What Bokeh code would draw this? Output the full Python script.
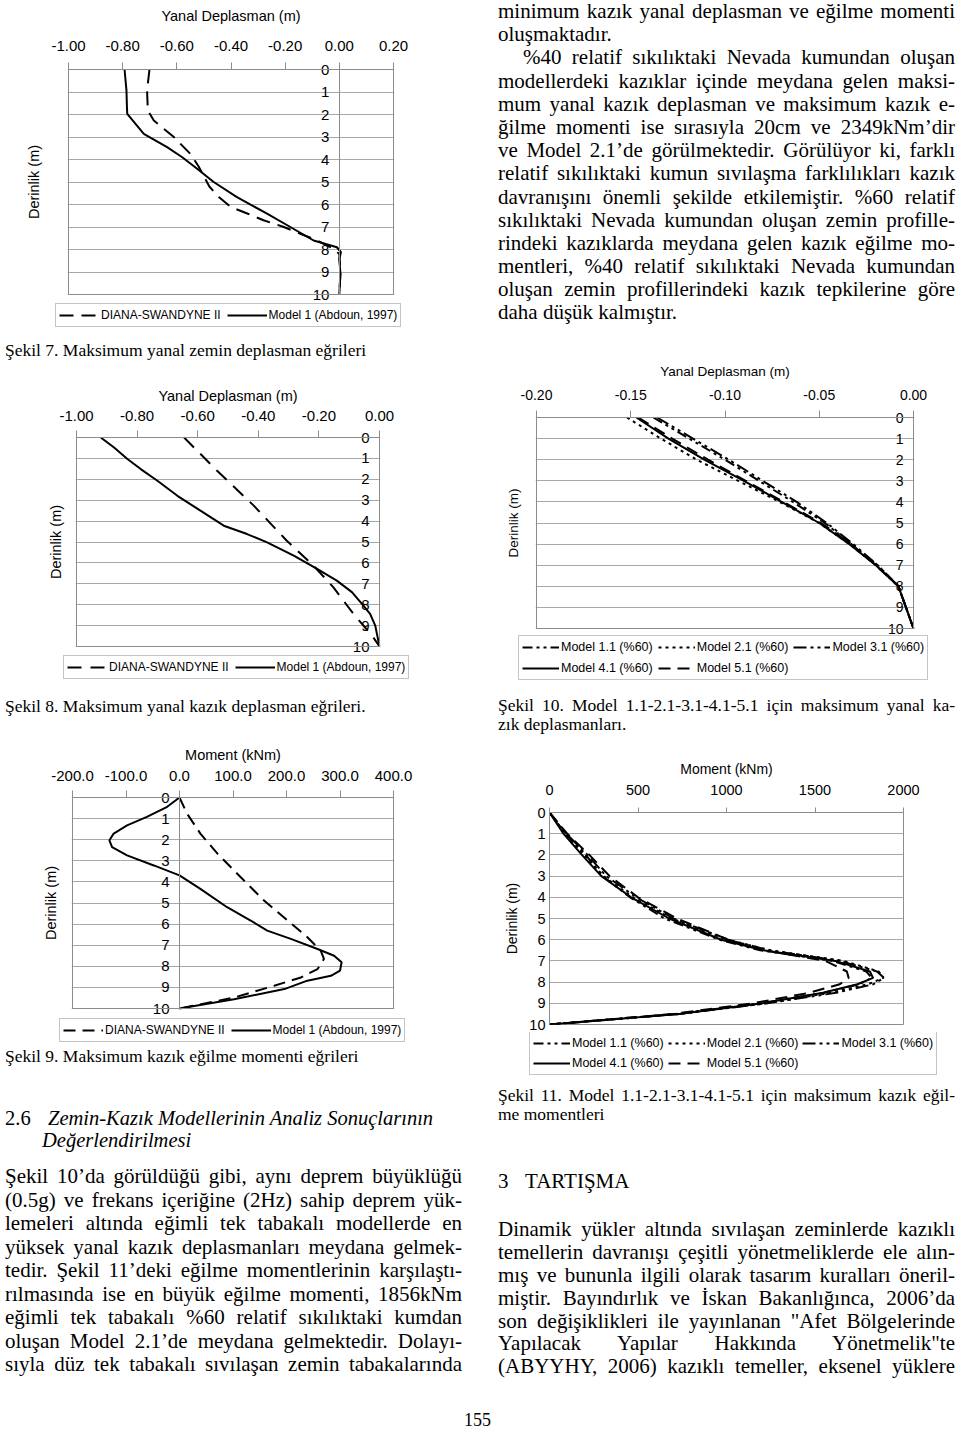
import html
from bokeh.plotting import figure
from bokeh.models import (Range1d, FixedTicker, NumeralTickFormatter, LinearAxis, Legend,
                          LegendItem, Div, BoxAnnotation)
from bokeh.layouts import column, row
from bokeh.embed import file_html
from bokeh.resources import INLINE

# ---------------- DATA ----------------
depth_ticks = [0, 1, 2, 3, 4, 5, 6, 7, 8, 9, 10]

# Şekil 7 - Maksimum yanal zemin deplasman eğrileri
f7_xticks = [-1.0, -0.8, -0.6, -0.4, -0.2, 0.0, 0.2]
f7_model1_depth = [0, 0.93, 1.75, 1.97, 2.86, 3.45, 3.9, 4.41, 5.0, 5.67, 6.41, 7.0, 7.6, 7.9, 8.12, 8.41, 9.08, 10]
f7_model1_disp = [-0.793, -0.786, -0.784, -0.783, -0.722, -0.636, -0.58, -0.525, -0.464, -0.378, -0.267, -0.181, -0.095, -0.009, 0.006, 0.0, 0.004, 0.0]
f7_diana_depth = [0, 0.93, 1.82, 2.27, 3.0, 3.75, 4.3, 4.64, 5.2, 5.67, 6.12, 6.4, 6.7, 7.0, 7.3, 7.6, 7.97, 8.2, 9.0, 10]
f7_diana_disp = [-0.701, -0.71, -0.707, -0.685, -0.611, -0.55, -0.52, -0.505, -0.48, -0.445, -0.40, -0.34, -0.28, -0.205, -0.144, -0.082, -0.021, 0.0, 0.004, 0.0]

# Şekil 8 - Maksimum yanal kazık deplasman eğrileri
f8_xticks = [-1.0, -0.8, -0.6, -0.4, -0.2, 0.0]
f8_model1_depth = [0, 0.48, 1.03, 1.51, 2.07, 2.79, 3.5, 4.22, 4.62, 5.02, 5.65, 6.29, 6.85, 7.4, 7.96, 8.44, 9.0, 10]
f8_model1_disp = [-0.92, -0.876, -0.832, -0.788, -0.733, -0.667, -0.591, -0.514, -0.437, -0.371, -0.283, -0.206, -0.141, -0.091, -0.058, -0.031, -0.014, 0.0]
f8_diana_depth = [0, 1.59, 3.26, 4.94, 6.13, 7.17, 8.44, 9.47, 10]
f8_diana_disp = [-0.645, -0.536, -0.415, -0.306, -0.218, -0.152, -0.086, -0.025, 0.0]

# Şekil 9 - Maksimum kazık eğilme momenti eğrileri
f9_xticks = [-200, -100, 0, 100, 200, 300, 400]
f9_model1_depth = [0, 0.44, 0.92, 1.32, 1.71, 2.03, 2.35, 2.74, 3.22, 3.69, 4.33, 5.2, 5.83, 6.31, 6.7, 7.18, 7.5, 7.81, 8.21, 8.45, 8.68, 9.08, 9.56, 10]
f9_model1_mom = [0, -23, -61, -98, -123, -131, -126, -98, -48, 0, 39, 89, 133, 164, 208, 258, 289, 303, 300, 283, 239, 196, 102, 0]
f9_diana_depth = [0, 0.76, 1.71, 2.66, 3.77, 4.88, 5.83, 6.62, 7.26, 7.65, 8.13, 8.53, 8.92, 9.48, 10]
f9_diana_mom = [0, 14, 39, 71, 114, 158, 202, 239, 264, 270, 258, 227, 177, 102, 0]

# Şekil 10 - Model 1.1-2.1-3.1-4.1-5.1 yanal kazık deplasmanları
f10_xticks = [-0.20, -0.15, -0.10, -0.05, 0.0]
f10_depth = [0, 1, 2, 3, 4, 5, 6, 7, 8, 9, 10]
f10_m11 = [-0.138, -0.119, -0.100, -0.082, -0.064, -0.047, -0.033, -0.019, -0.008, -0.004, 0.0]
f10_m21 = [-0.152, -0.134, -0.115, -0.093, -0.071, -0.050, -0.034, -0.020, -0.008, -0.004, 0.0]
f10_m31 = [-0.136, -0.117, -0.098, -0.080, -0.062, -0.046, -0.032, -0.019, -0.008, -0.004, 0.0]
f10_m41 = [-0.147, -0.130, -0.111, -0.090, -0.070, -0.050, -0.034, -0.020, -0.008, -0.004, 0.0]
f10_m51 = [-0.146, -0.128, -0.109, -0.089, -0.069, -0.049, -0.033, -0.020, -0.008, -0.004, 0.0]

# Şekil 11 - Model 1.1-2.1-3.1-4.1-5.1 kazık eğilme momentleri
f11_xticks = [0, 500, 1000, 1500, 2000]
f11_depth = [0, 1, 2, 3, 4, 5, 6, 6.5, 7, 7.5, 7.8, 8.1, 8.5, 9, 9.5, 10]
f11_m11 = [0, 90, 205, 300, 455, 650, 960, 1190, 1600, 1790, 1820, 1750, 1550, 1190, 715, 0]
f11_m21 = [0, 85, 195, 305, 470, 690, 1000, 1250, 1660, 1860, 1887, 1800, 1590, 1220, 730, 0]
f11_m31 = [0, 95, 215, 320, 490, 700, 1010, 1240, 1640, 1850, 1890, 1830, 1620, 1230, 735, 0]
f11_m41 = [0, 79, 183, 293, 461, 676, 971, 1208, 1615, 1810, 1828, 1740, 1545, 1200, 734, 0]
f11_m51 = [0, 100, 225, 340, 500, 720, 1010, 1210, 1560, 1680, 1690, 1640, 1470, 1150, 700, 0]

lab_diana = "DIANA-SWANDYNE II"
lab_model1 = "Model 1 (Abdoun, 1997)"
lab_models = ["Model 1.1 (%60)", "Model 2.1 (%60)", "Model 3.1 (%60)", "Model 4.1 (%60)", "Model 5.1 (%60)"]

# ---------------- STYLE ----------------
SANS = "Liberation Sans"
SERIF = "Liberation Serif"
GRID = "#a8a8a8"
FRAME = "#8c8c8c"
DASH_11 = "10 4 3 4 3 4"
DASH_21 = "3 4"
DASH_31 = "13 4 3 4 3 4"
DASH_51 = "12 7"
PADY = 7   # room so that the 0 / 10 depth labels are not cut
PADX = 1


def chart(w, box_l, box_r, box_t, box_b, xr, xticks, xfmt, xtitle, series, fixed_y,
          ylab_standoff, tick_standoff, title_standoff, tick_fs="15px", title_fs="14.5px"):
    if fixed_y:
        sx = (xr[1] - xr[0]) / (box_r - box_l)
        sy = 10.0 / (box_b - box_t)
        x_range = Range1d(xr[0] - PADX * sx, xr[1] + PADX * sx)
        y_range = Range1d(10 + PADY * sy, -PADY * sy)
        fl, fr, ft, fb = box_l - PADX, box_r + PADX, box_t - PADY, box_b + PADY
        h = fb
    else:
        x_range = Range1d(xr[0], xr[1])
        y_range = Range1d(10, 0)
        fl, fr, ft, fb = box_l, box_r, box_t, box_b
        h = fb + 8
    p = figure(width=w, height=h, x_range=x_range, y_range=y_range,
               x_axis_location="above", y_axis_location="left",
               output_backend="svg", toolbar_location=None, frame_align=False,
               min_border_left=fl, min_border_right=w - fr, min_border_top=ft,
               min_border_bottom=h - fb,
               outline_line_color=None if fixed_y else FRAME, outline_line_width=1,
               background_fill_color="white", border_fill_color="white")
    xa = p.xaxis[0]
    xa.ticker = FixedTicker(ticks=xticks)
    xa.formatter = NumeralTickFormatter(format=xfmt)
    xa.axis_label = xtitle
    xa.axis_label_text_font = SANS
    xa.axis_label_text_font_size = title_fs
    xa.axis_label_text_font_style = "normal"
    xa.axis_label_text_color = "black"
    xa.axis_label_standoff = title_standoff
    xa.major_label_text_font = SANS
    xa.major_label_text_font_size = tick_fs
    xa.major_label_text_color = "black"
    xa.major_label_standoff = tick_standoff
    xa.minor_tick_line_color = None
    xa.major_tick_line_color = FRAME
    if fixed_y:
        xa.major_tick_out = 0
        xa.major_tick_in = PADY
        xa.axis_line_color = None
    else:
        xa.major_tick_out = 5
        xa.major_tick_in = 0
        xa.axis_line_color = FRAME
    p.xgrid.visible = False
    p.ygrid.ticker = FixedTicker(ticks=depth_ticks)
    p.ygrid.grid_line_color = GRID
    ya = p.yaxis[0]
    ya.ticker = FixedTicker(ticks=depth_ticks)
    ya.major_label_text_font = SANS
    ya.major_label_text_font_size = tick_fs
    ya.major_label_text_color = "black"
    ya.major_tick_out = 0
    ya.major_tick_in = 0
    ya.minor_tick_line_color = None
    ya.axis_line_color = FRAME
    if fixed_y:
        ya.fixed_location = 0
        ya.bounds = (0, 10)
        ya.major_label_standoff = 10
        la = LinearAxis(ticker=FixedTicker(ticks=[]), axis_label="Derinlik (m)",
                        axis_line_color=None, major_tick_line_color=None,
                        minor_tick_line_color=None, axis_label_standoff=ylab_standoff,
                        axis_label_text_font=SANS, axis_label_text_font_size=title_fs,
                        axis_label_text_font_style="normal", axis_label_text_color="black")
        p.add_layout(la, "left")
        p.add_layout(BoxAnnotation(left=xr[0], right=xr[1], top=0, bottom=10,
                                   fill_alpha=0, line_color=FRAME, line_width=1, line_alpha=1))
    else:
        ya.axis_label = "Derinlik (m)"
        ya.axis_label_text_font = SANS
        ya.axis_label_text_font_size = title_fs
        ya.axis_label_text_font_style = "normal"
        ya.axis_label_text_color = "black"
        ya.axis_label_standoff = ylab_standoff
        ya.major_label_standoff = 4
    for lab, xs, ys, dash, lw in series:
        p.line(xs, ys, line_color="black", line_width=lw, line_dash=dash)
    return p


def legend_fig(w, h, series, lx, ly, ncols=None, glyph_w=40, spacing=4, lh=16, fs="12px"):
    q = figure(width=w, height=h, x_range=Range1d(0, 1), y_range=Range1d(0, 1),
               x_axis_location=None, y_axis_location=None, toolbar_location=None,
               output_backend="svg", min_border=0, outline_line_color=None, frame_align=False,
               background_fill_color="white", border_fill_color="white")
    q.grid.visible = False
    items = []
    for lab, xs, ys, dash, lw in series:
        # one-point line: invisible in the frame, but carries the style for the legend glyph
        r = q.line(xs[:1], ys[:1], line_color="black", line_width=lw, line_dash=dash)
        items.append(LegendItem(label=lab, renderers=[r]))
    leg = Legend(items=items, orientation="horizontal", location=(lx, ly),
                 label_text_font=SANS, label_text_font_size=fs, label_text_color="black",
                 glyph_width=glyph_w, glyph_height=lh, label_height=lh,
                 label_standoff=2, padding=3, spacing=spacing, margin=0,
                 border_line_color=FRAME, border_line_width=1, background_fill_color="white",
                 background_fill_alpha=1.0)
    if ncols:
        leg.ncols = ncols
    q.add_layout(leg, "center")
    return q


# ---------------- CHARTS ----------------
s7 = [(lab_diana, f7_diana_disp, f7_diana_depth, "14 8", 2),
      (lab_model1, f7_model1_disp, f7_model1_depth, "solid", 2)]
s8 = [(lab_diana, f8_diana_disp, f8_diana_depth, "14 9", 2),
      (lab_model1, f8_model1_disp, f8_model1_depth, "solid", 2)]
s9 = [(lab_diana, f9_diana_mom, f9_diana_depth, "12 7", 2),
      (lab_model1, f9_model1_mom, f9_model1_depth, "solid", 2)]
s10 = [(lab_models[0], f10_m11, f10_depth, DASH_11, 2),
       (lab_models[1], f10_m21, f10_depth, DASH_21, 2),
       (lab_models[2], f10_m31, f10_depth, DASH_31, 2),
       (lab_models[3], f10_m41, f10_depth, "solid", 2),
       (lab_models[4], f10_m51, f10_depth, DASH_51, 2)]
s11 = [(lab_models[0], f11_m11, f11_depth, DASH_11, 2),
       (lab_models[1], f11_m21, f11_depth, DASH_21, 2),
       (lab_models[2], f11_m31, f11_depth, DASH_31, 2),
       (lab_models[3], f11_m41, f11_depth, "solid", 2),
       (lab_models[4], f11_m51, f11_depth, DASH_51, 2)]

# left column
fig7 = chart(480, 68, 393, 69, 294, (-1.0, 0.2), f7_xticks, "0.00", "Yanal Deplasman (m)",
             s7, True, 26, 12, 14)
leg7 = legend_fig(480, 35, s7, 55, 9, spacing=6)
fig8 = chart(480, 76, 379, 65, 274, (-1.0, 0.0), f8_xticks, "0.00", "Yanal Deplasman (m)",
             s8, True, 12, 10, 4)
leg8 = legend_fig(480, 37, s8, 63, 11, spacing=6)
fig9 = chart(480, 72, 393, 67, 278, (-200, 400), f9_xticks, "0.0", "Moment (kNm)",
             s9, True, 13, 10, 5)
leg9 = legend_fig(480, 31, s9, 59, 4, spacing=6)

# right column
fig10 = chart(480, 56, 433, 72, 283, (-0.20, 0.0), f10_xticks, "0.00", "Yanal Deplasman (m)",
              s10, True, 15, 11, 8, tick_fs="14px", title_fs="13.5px")
leg10 = legend_fig(480, 53, s10, 38, 8, ncols=3, glyph_w=37, spacing=5, fs="12.5px")
fig11 = chart(480, 69, 423, 72, 284, (0, 2000), f11_xticks, "0", "Moment (kNm)",
              s11, False, 6, 13, 5, tick_fs="14.5px", title_fs="14px")
leg11 = legend_fig(480, 50, s11, 49, 7, ncols=3, glyph_w=37, spacing=4, fs="12.5px")

# ---------------- TEXT ----------------
top_right_lines = [
    ("minimum kazık yanal deplasman ve eğilme momenti", True, 0),
    ("oluşmaktadır.", False, 0),
    ("%40 relatif sıkılıktaki Nevada kumundan oluşan", True, 25),
    ("modellerdeki kazıklar içinde meydana gelen maksi-", True, 0),
    ("mum yanal kazık deplasman ve maksimum kazık e-", True, 0),
    ("ğilme momenti ise sırasıyla 20cm ve 2349kNm’dir", True, 0),
    ("ve Model 2.1’de görülmektedir. Görülüyor ki, farklı", True, 0),
    ("relatif sıkılıktaki kumun sıvılaşma farklılıkları kazık", True, 0),
    ("davranışını önemli şekilde etkilemiştir. %60 relatif", True, 0),
    ("sıkılıktaki Nevada kumundan oluşan zemin profille-", True, 0),
    ("rindeki kazıklarda meydana gelen kazık eğilme mo-", True, 0),
    ("mentleri, %40 relatif sıkılıktaki Nevada kumundan", True, 0),
    ("oluşan zemin profillerindeki kazık tepkilerine göre", True, 0),
    ("daha düşük kalmıştır.", False, 0),
]
left_para_lines = [
    ("Şekil 10’da görüldüğü gibi, aynı deprem büyüklüğü", True, 0),
    ("(0.5g) ve frekans içeriğine (2Hz) sahip deprem yük-", True, 0),
    ("lemeleri altında eğimli tek tabakalı modellerde en", True, 0),
    ("yüksek yanal kazık deplasmanları meydana gelmek-", True, 0),
    ("tedir. Şekil 11’deki eğilme momentlerinin karşılaştı-", True, 0),
    ("rılmasında ise en büyük eğilme momenti, 1856kNm", True, 0),
    ("eğimli tek tabakalı %60 relatif sıkılıktaki kumdan", True, 0),
    ("oluşan Model 2.1’de meydana gelmektedir. Dolayı-", True, 0),
    ("sıyla düz tek tabakalı sıvılaşan zemin tabakalarında", True, 0),
]
right_para_lines = [
    ("Dinamik yükler altında sıvılaşan zeminlerde kazıklı", True, 0),
    ("temellerin davranışı çeşitli yönetmeliklerde ele alın-", True, 0),
    ("mış ve bununla ilgili olarak tasarım kuralları öneril-", True, 0),
    ("miştir. Bayındırlık ve İskan Bakanlığınca, 2006’da", True, 0),
    ("son değişiklikleri ile yayınlanan \"Afet Bölgelerinde", True, 0),
    ("Yapılacak Yapılar Hakkında Yönetmelik\"te", True, 0),
    ("(ABYYHY, 2006) kazıklı temeller, eksenel yüklere", True, 0),
]
cap7 = "Şekil 7. Maksimum yanal zemin deplasman eğrileri"
cap8 = "Şekil 8. Maksimum yanal kazık deplasman eğrileri."
cap9 = "Şekil 9. Maksimum kazık eğilme momenti eğrileri"
cap10_lines = [("Şekil 10. Model 1.1-2.1-3.1-4.1-5.1 için maksimum yanal ka-", True, 0),
               ("zık deplasmanları.", False, 0)]
cap11_lines = [("Şekil 11. Model 1.1-2.1-3.1-4.1-5.1 için maksimum kazık eğil-", True, 0),
               ("me momentleri", False, 0)]
heading_num = "2.6"
heading_l1 = "Zemin-Kazık Modellerinin Analiz Sonuçlarının"
heading_l2 = "Değerlendirilmesi"
section_num = "3"
section_title = "TARTIŞMA"
page_no = "155"


def lines_html(lines, lh):
    out = []
    for txt, just, ind in lines:
        al = "justify" if just else "left"
        out.append(
            f'<div style="height:{lh}px;line-height:{lh}px;text-align:{al};'
            f'text-align-last:{al};padding-left:{ind}px;">{html.escape(txt, quote=False)}</div>')
    return "".join(out)


def block(inner, w, h, fs, pad_top=0, pad_left=0, text_w=457):
    txt = (f'<div style="box-sizing:content-box;padding-top:{pad_top}px;'
           f'padding-left:{pad_left}px;width:{text_w}px;font-family:\'{SERIF}\';'
           f'font-size:{fs}px;color:#000;">{inner}</div>')
    return Div(text=txt, width=w, height=h, margin=0, styles={"overflow": "visible"})


div_top_right = block(lines_html(top_right_lines, 23.2), 480, 345, 21, pad_left=18)
div_cap7 = block(lines_html([(cap7, False, 0)], 20), 480, 36, 17.5, pad_top=4, pad_left=5)
div_cap8 = block(lines_html([(cap8, False, 0)], 20), 480, 40, 17.5, pad_top=6, pad_left=5)
div_cap9 = block(lines_html([(cap9, False, 0)], 20), 480, 24, 17.5, pad_top=0, pad_left=5)
div_cap10 = block(lines_html(cap10_lines, 19), 480, 52, 17.5, pad_top=8, pad_left=18)
div_cap11 = block(lines_html(cap11_lines, 19), 480, 48, 17.5, pad_top=4, pad_left=18)

heading_html = (
    f'<div style="height:22px;line-height:22px;font-size:20.5px;">'
    f'<span style="display:inline-block;width:43px;">{heading_num}</span>'
    f'<i>{html.escape(heading_l1)}</i></div>'
    f'<div style="height:22px;line-height:22px;font-size:20.5px;padding-left:37px;">'
    f'<i>{html.escape(heading_l2)}</i></div>'
    f'<div style="height:14px;"></div>' + lines_html(left_para_lines, 23.5))
div_left_text = block(heading_html, 480, 315, 21, pad_top=37, pad_left=5)

section_html = (
    f'<div style="height:23px;line-height:23px;">'
    f'<span style="display:inline-block;width:27px;">{section_num}</span>{html.escape(section_title)}</div>'
    f'<div style="height:25px;"></div>' + lines_html(right_para_lines, 22.9))
div_right_text = block(section_html, 480, 255, 21, pad_top=40, pad_left=18)

div_page = Div(text=(f'<div style="padding-top:26px;padding-left:464px;font-family:\'{SERIF}\';'
                     f'font-size:18px;line-height:18px;color:#000;">{page_no}</div>'),
               width=960, height=44, margin=0, styles={"overflow": "visible"})

left_col = column(fig7, leg7, div_cap7, fig8, leg8, div_cap8, fig9, leg9, div_cap9,
                  div_left_text, spacing=0)
right_col = column(div_top_right, fig10, leg10, div_cap10, fig11, leg11, div_cap11,
                   div_right_text, spacing=0)
page = column(row(left_col, right_col, spacing=0), div_page, spacing=0)

open("out.html", "w").write(file_html(page, INLINE, title="Şekil 7-11"))
